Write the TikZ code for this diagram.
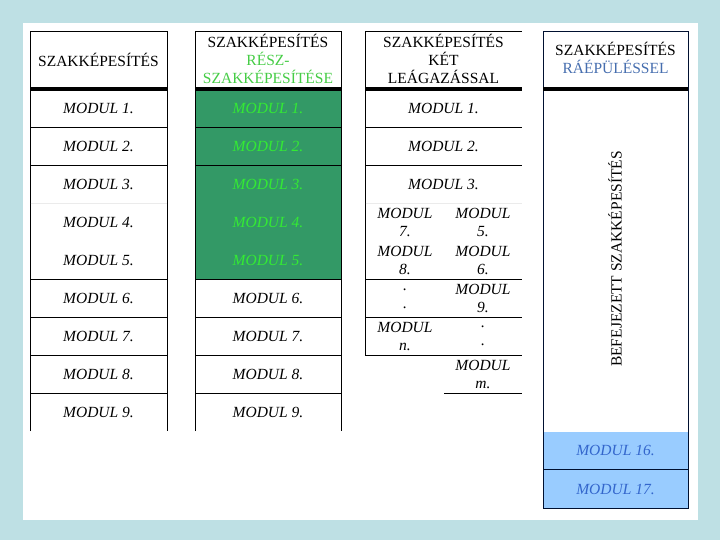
\documentclass[tikz,border=0pt]{standalone}
\usepackage{fontspec}
\setmainfont{Liberation Serif}
\definecolor{bgblue}{RGB}{190,224,228}
\definecolor{modgreen}{RGB}{51,153,102}
\definecolor{txtgreen}{RGB}{51,235,51}
\definecolor{hdgreen}{RGB}{70,205,70}
\definecolor{modblue}{RGB}{153,204,255}
\definecolor{txtblue}{RGB}{51,102,204}
\definecolor{hdblue}{RGB}{70,110,175}
\definecolor{navy}{RGB}{0,16,48}
\begin{document}
\begin{tikzpicture}[x=1pt,y=-1pt,font=\fontsize{15.5}{18}\selectfont]
        \tikzset{mod/.style={font=\fontsize{15.5}{18}\selectfont\itshape, inner sep=0pt, align=center},
                 head/.style={inner sep=0pt, align=center},
                 rule/.style={line width=0.9pt},
                 headrule/.style={line width=4pt},
                 faint/.style={line width=0.8pt, black!8}}

        \useasboundingbox (0,0) rectangle (720,540);
        \fill[bgblue] (0,0) rectangle (720,540);
        \fill[white] (23,23) rectangle (698,520);

        % SZAKKEPESITES
        \node[head] (h1) at (98.5,60) {SZAKKÉPESÍTÉS};
        \foreach \i in {1,...,9}
            \node[mod] (a\i) at (98.5,{90+37.9*(\i-0.5)}) {MODUL \i.};
        \draw[rule] (30,431) -- (30,31) -- (167,31) -- (167,431);
        \draw[headrule] (30,88.7) -- (167,88.7);
        \foreach \y in {127.9,165.8,279.5,317.4,355.3,393.2}
            \draw[rule] (30,\y) -- (167,\y);
        \draw[faint] (30.5,203.7) -- (166.5,203.7);

        % RESZ-SZAKKEPESITESE
        \fill[modgreen] (195,90) rectangle (341,279.5);
        \node[head] (h2) at (268,58.5) {SZAKKÉPESÍTÉS\\\textcolor{hdgreen}{RÉSZ-}\\\textcolor{hdgreen}{SZAKKÉPESÍTÉSE}};
        \foreach \i in {1,...,5}
            \node[mod, text=txtgreen] (b\i) at (268,{90+37.9*(\i-0.5)}) {MODUL \i.};
        \foreach \i in {6,...,9}
            \node[mod] (b\i) at (268,{90+37.9*(\i-0.5)}) {MODUL \i.};
        \draw[rule] (195,431) -- (195,31) -- (341,31) -- (341,431);
        \draw[headrule] (195,88.7) -- (341,88.7);
        \foreach \y in {127.9,165.8,279.5,317.4,355.3,393.2}
            \draw[rule] (195,\y) -- (341,\y);

        % KET LEAGAZASSAL
        \node[head] (h3) at (443.5,58.5) {SZAKKÉPESÍTÉS\\KÉT\\LEÁGAZÁSSAL};
        \foreach \i in {1,...,3}
            \node[mod] (c\i) at (443.5,{90+37.9*(\i-0.5)}) {MODUL \i.};
        \node[mod] (l1) at (405,222.6) {MODUL\\7.};
        \node[mod] (l2) at (405,260.5) {MODUL\\8.};
        \node[mod] (l3) at (405,298.4) {.\\.};
        \node[mod] (l4) at (405,336.3) {MODUL\\n.};
        \node[mod] (r1) at (483,222.6) {MODUL\\5.};
        \node[mod] (r2) at (483,260.5) {MODUL\\6.};
        \node[mod] (r3) at (483,298.4) {MODUL\\9.};
        \node[mod] (r4) at (483,336.3) {.\\.};
        \node[mod] (r5) at (483,374.2) {MODUL\\m.};
        \draw[rule] (365,355.3) -- (365,31) -- (522,31);
        \draw[headrule] (365,88.7) -- (522,88.7);
        \foreach \y in {127.9,165.8,279.5,317.4,355.3}
            \draw[rule] (365,\y) -- (522,\y);
        \draw[rule] (444,393.2) -- (522,393.2);
        \draw[faint] (365.5,203.7) -- (522,203.7);

        % RAEPULESSEL
        \fill[modblue] (543,431.5) rectangle (688,508);
        \node[head] (h4) at (615.5,58) {SZAKKÉPESÍTÉS\\\textcolor{hdblue}{RÁÉPÜLÉSSEL}};
        \node[head, rotate=90] (bef) at (615,259) {BEFEJEZETT SZAKKÉPESÍTÉS};
        \node[mod, text=txtblue] (d16) at (615.5,450.7) {MODUL 16.};
        \node[mod, text=txtblue] (d17) at (615.5,489) {MODUL 17.};
        \draw[rule, navy] (543,31) rectangle (688,508);
        \draw[rule, navy] (543,469.7) -- (688,469.7);
        \draw[headrule] (543,88.7) -- (688,88.7);
    \end{tikzpicture}
\end{document}
